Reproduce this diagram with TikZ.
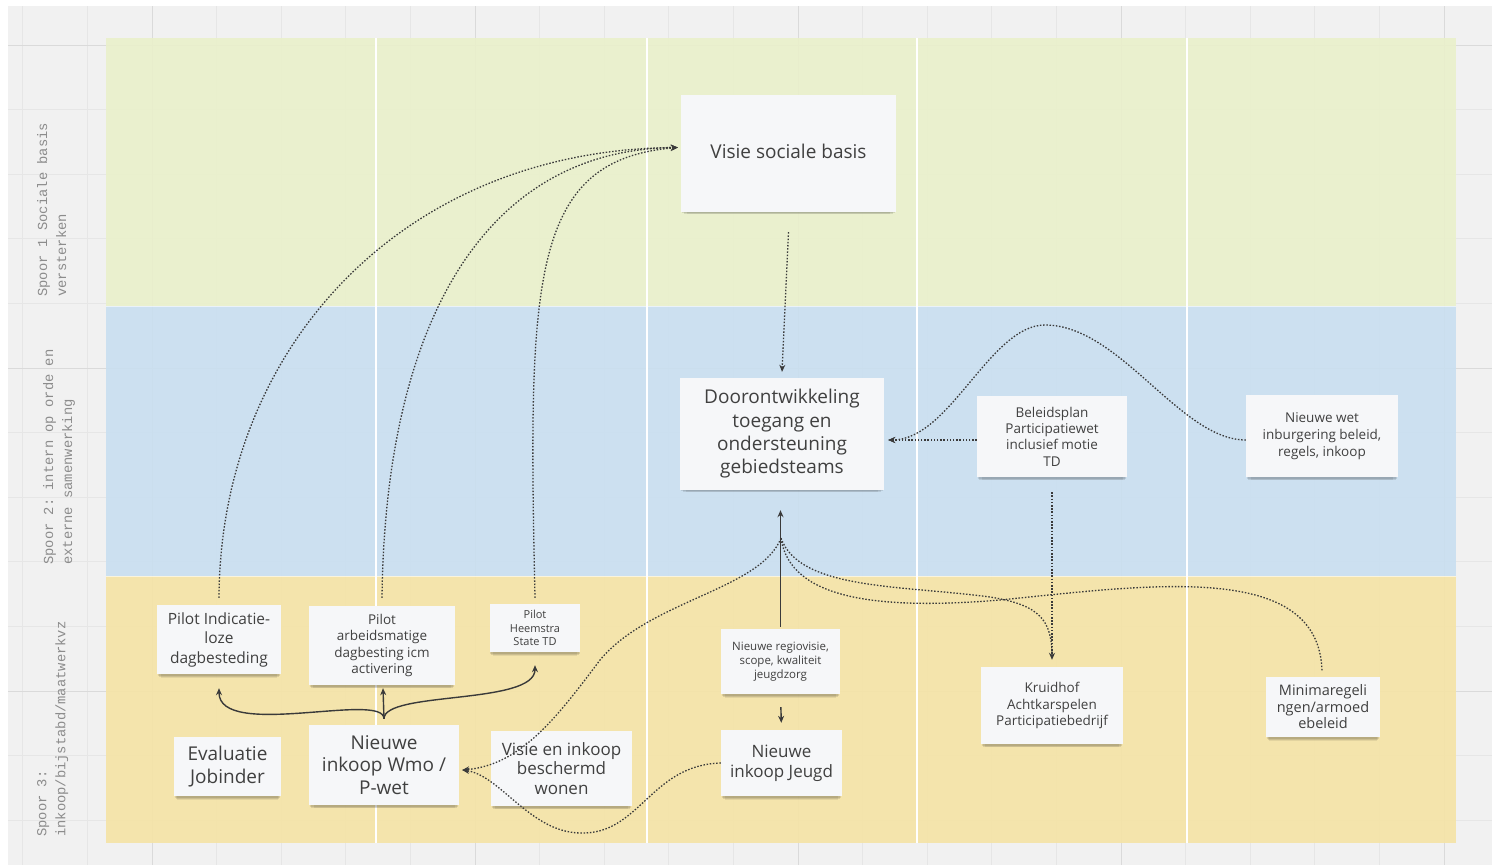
\documentclass[tikz,border=0pt]{standalone}
\usepackage{fontspec}
\setmainfont{Open Sans}
\setmonofont{Liberation Mono}
\usetikzlibrary{arrows.meta,shadows,calc}
\definecolor{bggrey}{HTML}{F1F1F1}
\definecolor{gridminor}{HTML}{E6E6E6}
\definecolor{gridmajor}{HTML}{DADADA}
\definecolor{lanegreen}{HTML}{EAF0CB}
\definecolor{laneblue}{HTML}{C9DFF0}
\definecolor{laneyellow}{HTML}{F5E3A5}
\definecolor{cardfill}{HTML}{F6F7F9}
\definecolor{cardtext}{HTML}{404040}
\definecolor{linecol}{HTML}{3A3A3A}
\definecolor{labelgrey}{HTML}{8C8C8C}
\newcommand\myfs[2]{\fontsize{#1}{#2}\selectfont}
\tikzset{
  card/.style={fill=cardfill, text=cardtext, align=center, inner sep=2pt,
    general shadow={shadow xshift=0pt, shadow yshift=-2pt, shadow scale=0.99, opacity=0.10, fill=black},
    general shadow={shadow xshift=0pt, shadow yshift=-4pt, shadow scale=0.97, opacity=0.10, fill=black},
    general shadow={shadow xshift=0pt, shadow yshift=-6pt, shadow scale=0.94, opacity=0.07, fill=black}},
  lanelbl/.style={rotate=90, font=\ttfamily\myfs{13.8}{19}, text=labelgrey, align=left, inner sep=0pt},
  dotline/.style={draw=linecol, line width=1.3pt, dash pattern=on 1.5pt off 1.7pt},
  solidline/.style={draw=linecol, line width=1.4pt},
  arr/.style={-{Stealth[length=7pt,width=6pt]}}
}
\begin{document}
\begin{tikzpicture}[x=1pt,y=-1pt]
\useasboundingbox (0,0) rectangle (1492,865);
\fill[white] (0,0) rectangle (1492,865);
\fill[bggrey] (8,6) rectangle (1492,865);
% grid
\foreach \k in {-2,...,20} \draw[gridminor, line width=0.8pt] ({152+64.6*\k},6) -- ({152+64.6*\k},865);
\foreach \k in {0,...,12} \draw[gridminor, line width=0.8pt] (8,{45+64.6*\k}) -- (1492,{45+64.6*\k});
\foreach \k in {0,...,4} \draw[gridmajor, line width=1pt] ({152+323*\k},6) -- ({152+323*\k},865);
\foreach \k in {0,...,2} \draw[gridmajor, line width=1pt] (8,{45+323*\k}) -- (1492,{45+323*\k});
% lanes
\fill[lanegreen, fill opacity=0.9] (106,38) rectangle (1456,306);
\fill[laneblue, fill opacity=0.9] (106,306) rectangle (1456,576);
\fill[laneyellow, fill opacity=0.9] (106,576) rectangle (1456,843);
\foreach \xx in {376,647,917,1187} \draw[white, line width=2pt] (\xx,38) -- (\xx,843);
\draw[white, opacity=0.6, line width=1pt] (106,306) -- (1456,306);
\draw[white, opacity=0.6, line width=1pt] (106,576) -- (1456,576);
% lane labels
\node[lanelbl, anchor=north west] (l1) at (37,297) {Spoor 1 Sociale basis\\versterken};
\node[lanelbl, anchor=north west] (l2) at (43,565) {Spoor 2: intern op orde en\\externe samenwerking};
\node[lanelbl, anchor=north west] (l3) at (37,837) {Spoor 3:\\inkoop/bijstabd/maatwerkvz};
% cards
\node[card, minimum width=215pt, minimum height=117pt, font=\myfs{19}{23}] (vsb) at (788.5,153.5) {\raisebox{4pt}{Visie sociale basis}};
\node[card, minimum width=204pt, minimum height=112pt, font=\myfs{19}{23.3}] (door) at (782,434) {Doorontwikkeling\\toegang en\\ondersteuning\\gebiedsteams};
\node[card, minimum width=150pt, minimum height=81pt, font=\myfs{13.5}{16.3}] (bel) at (1052,436.5) {Beleidsplan\\Participatiewet\\inclusief motie\\TD};
\node[card, minimum width=152pt, minimum height=82pt, font=\myfs{13.5}{17}] (wet) at (1322,436) {Nieuwe wet\\inburgering beleid,\\regels, inkoop};
\node[card, minimum width=124pt, minimum height=69pt, font=\myfs{15.5}{19.5}] (pind) at (219,639.5) {Pilot Indicatie-\\loze\\dagbesteding};
\node[card, minimum width=146pt, minimum height=79pt, font=\myfs{13.5}{16.3}] (parb) at (382,645.5) {Pilot\\arbeidsmatige\\dagbesting icm\\activering};
\node[card, minimum width=90pt, minimum height=48pt, font=\myfs{11}{13.5}] (phee) at (535,628) {Pilot\\Heemstra\\State TD};
\node[card, minimum width=107pt, minimum height=59pt, font=\myfs{19}{23}] (eval) at (227.5,766.5) {Evaluatie\\Jobinder};
\node[card, minimum width=150pt, minimum height=80pt, font=\myfs{19}{22.5}] (wmo) at (384,765) {Nieuwe\\inkoop Wmo /\\P-wet};
\node[card, minimum width=141pt, minimum height=75pt, font=\myfs{17}{19.5}] (vbw) at (561.5,768.5) {Visie en inkoop\\beschermd\\wonen};
\node[card, minimum width=119pt, minimum height=65pt, font=\myfs{11.5}{14}] (regio) at (780.5,661.5) {Nieuwe regiovisie,\\scope, kwaliteit\\jeugdzorg};
\node[card, minimum width=121pt, minimum height=66pt, font=\myfs{17}{20}] (jeugd) at (781.5,763) {Nieuwe\\inkoop Jeugd};
\node[card, minimum width=142pt, minimum height=77pt, font=\myfs{13.5}{16.5}] (kruid) at (1052,705.5) {Kruidhof\\Achtkarspelen\\Participatiebedrijf};
\node[card, minimum width=114pt, minimum height=60pt, font=\myfs{14.5}{16.5}] (mini) at (1323,707) {Minimaregeli\\ngen/armoed\\ebeleid};
% junction
\coordinate (J) at ($(door.south)+(-1,48)$);
% connectors
\draw[dotline,arr] ($(vsb.south)+(0,20)$) -- ($(door.north)+(0,-6)$);
\draw[dotline,arr,shorten >=4pt] ($(bel.west)+(0,3.5)$) -- ($(door.east)+(0,6)$);
\draw[dotline,arr] ($(wet.west)+(0,4)$) .. controls (1180,440) and (1120,325) .. (1045,325) .. controls (990,325) and (950,440) .. ($(door.east)+(4,6)$);
\draw[dotline,arr,shorten <=15pt,shorten >=7pt] (bel.south) -- (kruid.north);
\draw[solidline,arr,shorten <=2pt,shorten >=20pt] (regio.north) -- (regio.north |- door.south);
\draw[solidline,arr,shorten <=13pt,shorten >=7pt] (regio.south) -- (jeugd.north);
\draw[solidline,arr] ($(wmo.north)+(0,-6)$) -- ($(parb.south)+(1,3)$);
\draw[solidline,arr] ($(wmo.north)+(0,-6)$) .. controls +(0,-28) and +(0,52) .. ($(pind.south)+(0,14)$);
\draw[solidline,arr] ($(wmo.north)+(0,-6)$) .. controls +(0,-28) and +(0,40) .. ($(phee.south)+(0,13)$);
\draw[dotline,arr] ($(pind.north)+(0,-7)$) .. controls (220,350) and (400,150) .. ($(vsb.west)+(-3,-6)$);
\draw[dotline,arr] ($(parb.north)+(0,-8)$) .. controls (385,330) and (480,150) .. ($(vsb.west)+(-3,-6)$);
\draw[dotline,arr] ($(phee.north)+(0,-6)$) .. controls (528,280) and (530,160) .. ($(vsb.west)+(-3,-6)$);
\draw[dotline,arr] (J) .. controls (760,590) and (650,600) .. (600,660) .. controls (555,720) and (520,765) .. ($(wmo.east)+(3,5)$);
\draw[dotline] (J) .. controls (800,590) and (900,585) .. (990,597) .. controls (1040,605) and (1052,620) .. ($(kruid.north)+(0,-10)$);
\draw[dotline] (J) .. controls (790,600) and (880,610) .. (1000,600) .. controls (1150,585) and (1320,560) .. ($(mini.north)+(-1,-5)$);
\draw[dotline,arr] (jeugd.west) .. controls (650,765) and (640,835) .. (580,833) .. controls (530,832) and (500,775) .. ($(wmo.east)+(3,5)$);
\end{tikzpicture}
\end{document}
